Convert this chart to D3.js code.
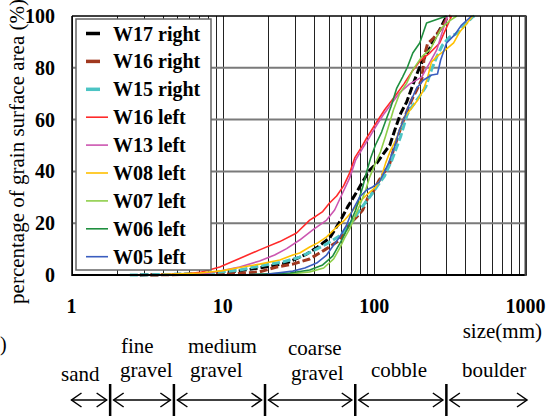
<!DOCTYPE html>
<html><head><meta charset="utf-8">
<script src="https://cdn.jsdelivr.net/npm/d3@7"></script>
</head>
<body style="margin:0"><svg id="c" width="557" height="416" style="display:block;background:#fff"></svg>
<script>
// ---- data (size in mm, percentage of grain surface area) ----
const seriesNames = ["W17 right","W16 right","W15 right","W16 left","W13 left","W08 left","W07 left","W06 left","W05 left"];
const seriesColors = ["#000000","#a0381f","#4cc4c4","#ff2a2a","#cc55b0","#ffc000","#8fcf4a","#1f8f3f","#3a5dbf"];
const seriesDashed = [true,true,true,false,false,false,false,false,false];

const w17rSize = [2.83,7.05,12.4,17.5,26.4,35.8,42.4,50.8,59.2,66.8,76.6,85.2,93.4,104,116,127,139,150,164,180,194,209,233,255,275,292,305];
const w17rPct  = [0,0.4,1.5,2.7,4.6,8.1,10.8,14.3,20.5,26.3,32,36.7,40.5,43.2,47.1,50.2,57.1,62.5,66.8,73.4,78.4,82.6,87.6,91.9,95.4,98.5,100];

const w16rSize = [3.3,11.1,17.5,22.7,29,37.5,47.1,59.2,68.9,76.6,84,90.6,97.7,108,119,127,134,141,152,164,177,191,206,215,225,247,283,305,320];
const w16rPct  = [0,0.4,1.2,3.1,4.2,6.2,9.7,13.5,19.7,22.4,25.1,29.7,31.7,36.7,40.5,43.2,48.3,52.1,57.9,62.9,67.6,71.4,75.3,84.9,89.2,91.5,95.8,99.6,100];

const w15rSize = [2.43,7.05,12.9,17.5,24.9,32.2,41.7,48.5,59.2,68.9,80.2,93.4,105,117,131,141,150,164,171,185,200,219,239,259,283,315,356,402,447,460];
const w15rPct  = [0,0.4,1.9,3.5,5,6.9,10,12,15.1,19.3,25.1,30.1,34.4,38.2,44.4,49.4,53.7,61.4,63.7,66.4,69.1,72.6,79.2,84.2,88.8,91.9,93.4,96.9,99.6,100];

const w16lSize = [3.3,5.6,7.05,9.55,12.9,17.5,23.8,30.7,37.5,41,45.7,50.7,56.5,62.8,68.9,74.4,82.5,89.2,102,117,136,157,177,203,233,271,325];
const w16lPct  = [0,0.4,1.0,3.1,6.4,9.7,12.9,16.2,21.2,22.6,24.5,27.8,30.5,34.4,39.4,45.2,49.4,52.9,58.3,63.7,68.7,73.7,78.4,83,85.7,89.6,100];

const w13lSize = [3.3,6.05,8.2,12.9,17.5,22,26.4,32.2,39.3,48.5,54.8,61,68.9,75.4,84,93.4,104,116,131,147,171,206,236,259,279,305];
const w13lPct  = [0,0.2,0.8,3.1,5.4,7.7,10.2,13.5,17.4,21.2,25.1,30.9,37.5,44.4,49,53.3,57.9,62.2,66.4,70.3,73.7,76.4,82.6,86.9,93,100];

const w08lSize = [1.94,3.84,7.05,10,12.9,17.5,23.8,29,32.2,37.5,42.4,48.5,56.5,63.8,71,80.2,89.2,101,110,119,127,139,150,159,177,194,209,225,239,262,296,335,367,402,447];
const w08lPct  = [0,0.2,0.8,1.7,2.9,4.2,5.8,7.7,8.5,10.8,12.4,14.7,18.5,21.2,24.3,28.2,30.9,33.6,36.7,43.2,47.5,52.1,57.1,61,64.5,67.6,70.7,76.1,82.2,84.6,86.9,89.6,93.8,96.5,100];

const w07lSize = [3.3,15.1,27.7,37.5,46.4,54,59.2,63.8,68.9,75.4,81.5,87.9,93.4,102,110,119,127,134,147,164,180,206,236,259,279,315,351];
const w07lPct  = [0,0,0.4,1.2,2.7,6.2,10.4,14.3,17.8,23.2,27.8,32.8,37.8,43.2,47.5,53.7,59.1,63.7,69.9,74.1,79.2,84.2,87.3,91.9,95.4,98.1,100];

const w06lSize = [5.2,15.1,27.7,37.5,45.7,53.2,61,68.9,75.4,84,89.2,94.8,102,112,121,129,141,154,166,180,200,222,301];
const w06lPct  = [0,0.2,0.8,1.9,3.9,7.3,13.5,19.7,25,34,39.8,45.2,50.2,55.2,60.6,64.9,72.2,76.4,80.3,85.7,89.6,97.3,100];

const w05lSize = [3.3,11.1,19.5,29,34.8,41.7,48.5,54,59.2,65.8,71,80.2,89.2,97.7,108,123,136,147,159,171,191,212,240,262,275,301,340,378,440];
const w05lPct  = [0,0,0.3,1.5,2.7,4.6,7.7,11.6,14.7,19.3,24.3,30.1,32.8,34,35.9,42.5,49.4,56,61,66,72.2,75.3,77.2,77.6,83,89.6,92.7,96.5,100];

const seriesSizes = [w17rSize,w16rSize,w15rSize,w16lSize,w13lSize,w08lSize,w07lSize,w06lSize,w05lSize];
const seriesPcts  = [w17rPct,w16rPct,w15rPct,w16lPct,w13lPct,w08lPct,w07lPct,w06lPct,w05lPct];

const xTickValues = [1,10,100,1000];
const yTickValues = [0,20,40,60,80,100];
const classBounds = [1.8,4.75,19,75,300];
const classArrowEnds = [1,1000];

// ---- drawing ----
const svg = d3.select("#c");
function T_(sel, size, bold){
  return sel.style("font-family","Liberation Serif").style("font-size",size+"px")
    .style("font-weight", bold ? "bold" : "normal");
}
const L=72, R=525.5, T=16, B=275;
const x = d3.scaleLog().domain([1,1000]).range([71.5,525.5]);
const y = d3.scaleLinear().domain([0,100]).range([B,T]);

// vertical grid (log minor ticks)
svg.append("g").selectAll("line").data(x.ticks()).join("line")
  .attr("x1",d=>Math.round(x(d))+0.5).attr("x2",d=>Math.round(x(d))+0.5)
  .attr("y1",T).attr("y2",B).attr("stroke","#222").attr("stroke-width",1);
// horizontal grid
svg.append("g").selectAll("line").data(yTickValues.filter(v=>v>0&&v<100)).join("line")
  .attr("x1",L).attr("x2",R).attr("y1",d=>y(d)).attr("y2",d=>y(d))
  .attr("stroke","#7a7a7a").attr("stroke-width",2);

// curves
const line = d3.line().x(d=>x(d[0])).y(d=>y(d[1]));
seriesNames.forEach((n,i)=>{
  const pts = seriesSizes[i].map((s,j)=>[s,seriesPcts[i][j]]);
  svg.append("path").datum(pts).attr("d",line).attr("fill","none")
    .attr("stroke",seriesColors[i])
    .attr("stroke-width",seriesDashed[i]?3:1.6)
    .attr("stroke-dasharray",seriesDashed[i]?"8,3":null)
    .attr("stroke-linejoin","round");
});

// frame
svg.append("line").attr("x1",L).attr("x2",R+1).attr("y1",T).attr("y2",T).attr("stroke","#000").attr("stroke-width",1.5);
svg.append("line").attr("x1",L).attr("x2",R+1).attr("y1",B).attr("y2",B).attr("stroke","#000").attr("stroke-width",2);
svg.append("line").attr("x1",L).attr("x2",L).attr("y1",T).attr("y2",B+1).attr("stroke","#000").attr("stroke-width",1.5);
svg.append("line").attr("x1",R).attr("x2",R).attr("y1",T).attr("y2",B+1).attr("stroke","#444").attr("stroke-width",2);

// legend
const lg = svg.append("g");
lg.append("rect").attr("x",76).attr("y",19).attr("width",135).attr("height",251)
  .attr("fill","#fff").attr("stroke","#666").attr("stroke-width",1.5);
seriesNames.forEach((n,i)=>{
  const by = 40.5 + i*27.9;
  lg.append("line").attr("x1",86).attr("x2",seriesDashed[i]?100:108)
    .attr("y1",by-7).attr("y2",by-7).attr("stroke",seriesColors[i])
    .attr("stroke-width",seriesDashed[i]?3.5:1.6);
  T_(lg.append("text").attr("x",113).attr("y",by), 20, true).text(n);
});

// y tick labels
T_(svg.append("g").selectAll("text").data(yTickValues).join("text")
  .attr("x",55).attr("y",d=>y(d)+7).attr("text-anchor","end"), 20, true).text(d=>d);
// x tick labels
T_(svg.append("g").selectAll("text").data(xTickValues).join("text")
  .attr("x",d=>x(d)).attr("y",313).attr("text-anchor","middle"), 20, true).text(d=>d);

// axis titles
T_(svg.append("text").attr("transform","translate(24,151.5) rotate(-90)")
  .attr("text-anchor","middle"), 21, false)
  .text("percentage of grain surface area (%)");
T_(svg.append("text").attr("x",542).attr("y",338).attr("text-anchor","end"), 21, false).text("size(mm)");
T_(svg.append("text").attr("x",0).attr("y",351), 20, false).text(")");

// size classes
const classLabels = [
  {t:"sand",x:61,y:381},
  {t:"fine",x:121,y:353},{t:"gravel",x:120,y:377},
  {t:"medium",x:188,y:353},{t:"gravel",x:190,y:377},
  {t:"coarse",x:288,y:355},{t:"gravel",x:291,y:380},
  {t:"cobble",x:371,y:377},
  {t:"boulder",x:462,y:377}
];
T_(svg.append("g").selectAll("text").data(classLabels).join("text")
  .attr("x",d=>d.x).attr("y",d=>d.y), 21, false).text(d=>d.t);

// separators
svg.append("g").selectAll("line").data(classBounds).join("line")
  .attr("x1",d=>x(d)).attr("x2",d=>x(d)).attr("y1",384).attr("y2",416)
  .attr("stroke","#000").attr("stroke-width",2.5);
// arrows
const edges = [classArrowEnds[0],...classBounds,classArrowEnds[1]];
const ay = 400;
const ag = svg.append("g").attr("fill","none").attr("stroke","#000").attr("stroke-width",1.5);
for(let i=0;i<edges.length-1;i++){
  const a = x(edges[i]) + (i===0?0:3.5);
  const b = x(edges[i+1]) - (i===edges.length-2?-1.5:3.5);
  ag.append("line").attr("x1",a).attr("x2",b).attr("y1",ay).attr("y2",ay);
  ag.append("path").attr("d",`M${a+10},${ay-7}L${a},${ay}L${a+10},${ay+7}`);
  ag.append("path").attr("d",`M${b-10},${ay-7}L${b},${ay}L${b-10},${ay+7}`);
}
</script></body></html>
